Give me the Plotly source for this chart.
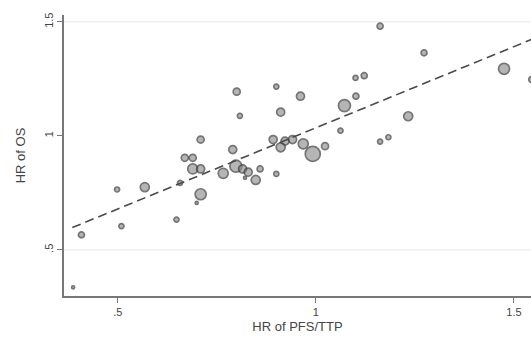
import plotly.graph_objects as go

# HR of PFS/TTP (x), HR of OS (y), relative study weight (bubble size)
hr_pfs = [0.387, 0.408, 0.498, 0.509, 0.568, 0.648, 0.657, 0.669, 0.689, 0.689,
          0.709, 0.709, 0.699, 0.709, 0.790, 0.766, 0.798, 0.815, 0.829, 0.821,
          0.859, 0.848, 0.800, 0.808, 0.892, 0.900, 0.900, 0.911, 0.961, 0.922,
          0.941, 0.911, 0.968, 0.992, 1.023, 1.062, 1.072, 1.100, 1.122, 1.101,
          1.233, 1.162, 1.183, 1.162, 1.273, 1.475, 1.545]
hr_os = [0.336, 0.566, 0.765, 0.604, 0.775, 0.633, 0.794, 0.904, 0.904, 0.855,
         0.855, 0.744, 0.706, 0.984, 0.940, 0.836, 0.867, 0.855, 0.841, 0.816,
         0.855, 0.807, 1.194, 1.088, 0.984, 0.833, 1.216, 1.104, 1.174, 0.977,
         0.984, 0.950, 0.965, 0.921, 0.955, 1.023, 1.133, 1.254, 1.264, 1.174,
         1.086, 0.975, 0.994, 1.481, 1.364, 1.294, 1.247]
study_weight = [3, 6, 5, 5, 9, 5, 5, 7, 7, 10,
                8, 11, 3, 7, 8, 10, 12, 8, 8, 3,
                6, 9, 7, 5, 8, 5, 5, 8, 8, 8,
                8, 9, 10, 15, 7, 5, 12, 5, 6, 6,
                9, 5, 5, 6, 6, 11, 6]

# fitted meta-regression line (endpoints)
fit_x = [0.385, 1.56]
fit_y = [0.598, 1.434]

x_ticks = [0.5, 1, 1.5]
x_tick_text = [".5", "1", "1.5"]
y_ticks = [0.5, 1, 1.5]
y_tick_text = [".5", "1", "1.5"]
grid_y = [0.5, 1.5]

fig = go.Figure()
fig.add_trace(go.Scatter(
    x=hr_pfs, y=hr_os, mode="markers",
    marker=dict(size=study_weight, sizemode="diameter", sizeref=1,
                color="rgba(140,140,140,0.9)",
                line=dict(color="#3c3c3c", width=1.7)),
    showlegend=False, hoverinfo="skip"))
fig.add_trace(go.Scatter(
    x=fit_x, y=fit_y, mode="lines",
    line=dict(color="#4a4a4a", width=1.6, dash="9px,5px"),
    showlegend=False, hoverinfo="skip"))

for gy in grid_y:
    fig.add_shape(type="line", xref="paper", yref="y", x0=0, x1=1, y0=gy, y1=gy,
                  line=dict(color="#eeeeee", width=1.5), layer="below")

font = dict(family="Liberation Sans, Arial, sans-serif", size=11, color="#444444")
fig.update_layout(
    width=531, height=337,
    margin=dict(l=64, r=0, t=15, b=41),
    paper_bgcolor="white", plot_bgcolor="white",
    font=font,
    xaxis=dict(range=[0.364, 1.543], showgrid=False, zeroline=False,
               showline=True, linecolor="#777777", linewidth=1.5,
               ticks="outside", ticklen=5, tickcolor="#777777", tickwidth=1,
               tickvals=x_ticks, ticktext=x_tick_text,
               title=dict(text="HR of PFS/TTP", standoff=5, font=dict(size=13))),
    yaxis=dict(range=[0.298, 1.53], showgrid=False, zeroline=False,
               showline=True, linecolor="#777777", linewidth=1.5,
               ticks="outside", ticklen=5, tickcolor="#777777", tickwidth=1,
               tickvals=y_ticks, ticktext=y_tick_text, tickangle=-90,
               title=dict(text="HR of OS", standoff=14, font=dict(size=13))),
)

fig.write_html("out.html")
